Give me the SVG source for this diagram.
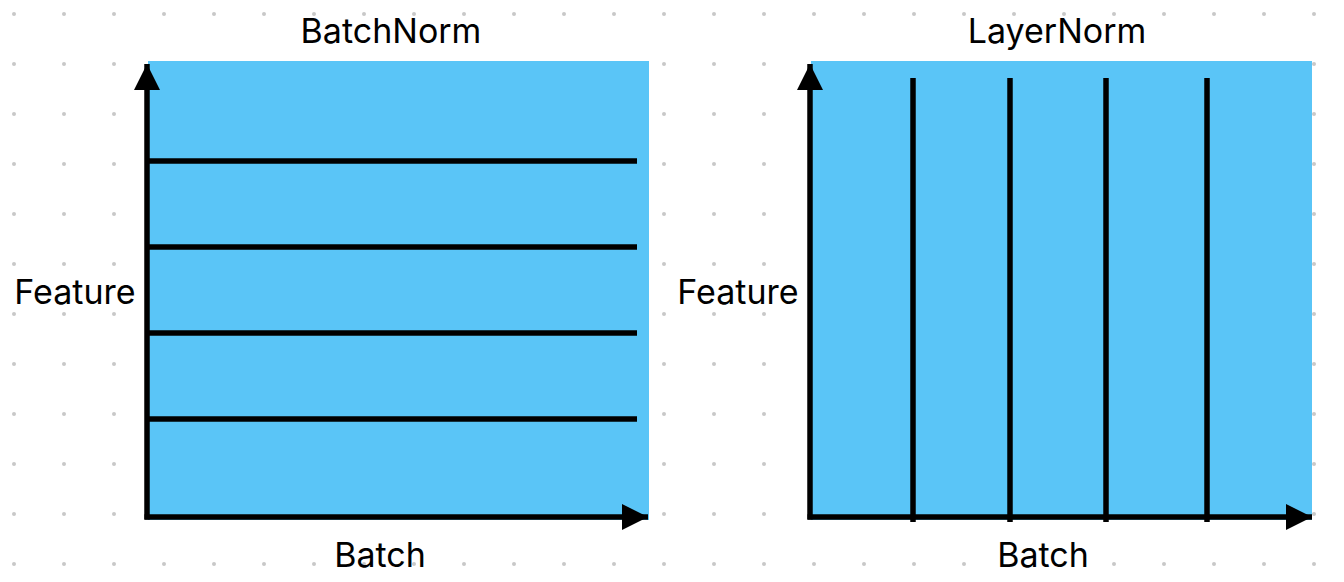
<svg xmlns="http://www.w3.org/2000/svg" width="1344" height="582" viewBox="0 0 1344 582">
  <style>
    .lbl { font-family: Inter, "Noto Sans", "Liberation Sans", sans-serif; font-size: 34px; fill: #000; text-anchor: middle; }
    .ln { stroke: #000; stroke-width: 5.5; fill: none; }
    .panel { fill: #5AC5F7; }
  </style>
  <defs>
    <pattern id="dots" x="0" y="0" width="50" height="50" patternUnits="userSpaceOnUse">
      <circle cx="14" cy="14" r="2" fill="#C8C8C8"/>
    </pattern>
    <marker id="arr" markerWidth="26" markerHeight="26" viewBox="0 0 26 26" refX="26" refY="13" orient="auto" markerUnits="userSpaceOnUse">
      <path d="M0,0 L26,13 L0,26 Z" fill="#000"/>
    </marker>
  </defs>
  <rect width="1344" height="582" fill="#fff"/>
  <rect width="1344" height="582" fill="url(#dots)"/>

  <g id="batchnorm">
    <rect class="panel" x="148" y="61" width="501" height="459"/>
    <text class="lbl" x="391" y="43">BatchNorm</text>
    <text class="lbl" x="75" y="304">Feature</text>
    <text class="lbl" x="380" y="567">Batch</text>
    <line class="ln" x1="147" y1="161" x2="637" y2="161"/>
    <line class="ln" x1="147" y1="247" x2="637" y2="247"/>
    <line class="ln" x1="147" y1="333" x2="637" y2="333"/>
    <line class="ln" x1="147" y1="419" x2="637" y2="419"/>
  </g>

  <g id="layernorm">
    <rect class="panel" x="811" y="61" width="501" height="459"/>
    <text class="lbl" x="1057" y="43">LayerNorm</text>
    <text class="lbl" x="738" y="304">Feature</text>
    <text class="lbl" x="1043" y="567">Batch</text>
    <line class="ln" x1="913" y1="78" x2="913" y2="522"/>
    <line class="ln" x1="1010" y1="78" x2="1010" y2="522"/>
    <line class="ln" x1="1106" y1="78" x2="1106" y2="522"/>
    <line class="ln" x1="1207" y1="78" x2="1207" y2="522"/>
  </g>

  <g id="connectors">
    <line class="ln" x1="147" y1="519.5" x2="147" y2="64" marker-end="url(#arr)"/>
    <line class="ln" x1="144.5" y1="517" x2="648" y2="517" marker-end="url(#arr)"/>
    <line class="ln" x1="810" y1="519.5" x2="810" y2="64" marker-end="url(#arr)"/>
    <line class="ln" x1="807.5" y1="517" x2="1312" y2="517" marker-end="url(#arr)"/>
  </g>
</svg>
